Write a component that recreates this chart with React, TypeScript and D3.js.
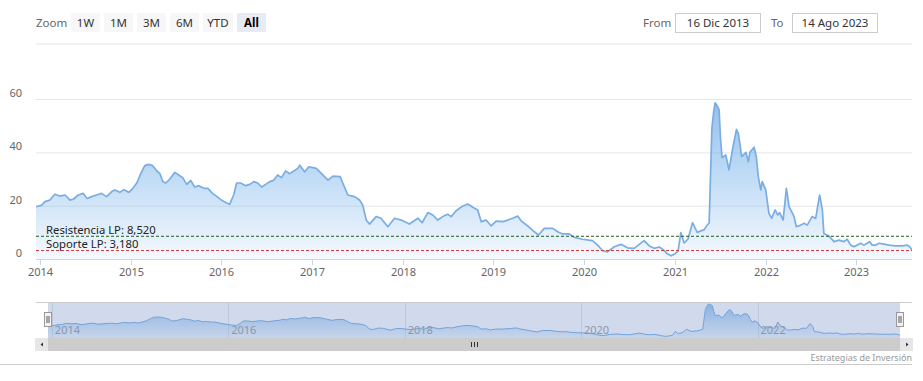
import React from 'react';
import * as d3 from 'd3';

const dates = [
  '2013-12-16','2013-12-24','2014-01-08','2014-01-21','2014-02-10','2014-03-02','2014-03-22','2014-04-12','2014-05-02','2014-05-15',
  '2014-06-04','2014-06-24','2014-07-10','2014-07-28','2014-08-17','2014-09-06','2014-09-26','2014-10-16','2014-10-30','2014-11-19',
  '2014-12-05','2014-12-25','2015-01-10','2015-01-26','2015-02-11','2015-02-27','2015-03-15','2015-03-31','2015-04-17','2015-04-29',
  '2015-05-11','2015-05-23','2015-06-08','2015-06-28','2015-07-14','2015-07-30','2015-08-15','2015-08-31','2015-09-16','2015-10-03',
  '2015-10-23','2015-11-08','2015-11-28','2015-12-14','2016-01-03','2016-01-23','2016-02-04','2016-02-20','2016-03-03','2016-03-19',
  '2016-04-09','2016-04-25','2016-05-11','2016-05-27','2016-06-12','2016-06-28','2016-07-14','2016-07-30','2016-08-15','2016-08-31',
  '2016-09-16','2016-10-03','2016-10-19','2016-11-04','2016-11-12','2016-12-02','2016-12-19','2017-01-18','2017-02-07','2017-03-06',
  '2017-03-26','2017-04-24','2017-05-05','2017-05-25','2017-06-21','2017-07-11','2017-07-24','2017-08-07','2017-08-20','2017-09-16',
  '2017-10-06','2017-10-16','2017-11-02','2017-11-29','2017-12-26','2018-01-28','2018-03-03','2018-03-20','2018-04-12','2018-05-02',
  '2018-05-22','2018-06-11','2018-07-01','2018-07-15','2018-08-04','2018-08-31','2018-09-20','2018-10-10','2018-10-30','2018-11-13',
  '2018-12-03','2018-12-23','2019-01-12','2019-02-08','2019-02-28','2019-03-20','2019-04-09','2019-04-22','2019-05-26','2019-06-15',
  '2019-07-02','2019-07-25','2019-08-28','2019-09-17','2019-10-07','2019-11-03','2019-11-23','2019-12-26','2020-02-04','2020-02-25',
  '2020-03-16','2020-04-05','2020-05-02','2020-05-29','2020-06-24','2020-07-21','2020-08-30','2020-09-20','2020-10-10','2020-10-30',
  '2020-11-15','2020-12-01','2020-12-17','2021-01-02','2021-01-14','2021-01-25','2021-02-07','2021-02-23','2021-03-13','2021-04-01',
  '2021-04-29','2021-05-11','2021-05-19','2021-05-30','2021-06-06','2021-06-12','2021-06-20','2021-06-28','2021-07-04','2021-07-10',
  '2021-07-25','2021-08-07','2021-08-23','2021-09-06','2021-09-14','2021-09-27','2021-10-14','2021-10-24','2021-10-30','2021-11-16',
  '2021-11-25','2021-12-03','2021-12-13','2021-12-19','2022-01-02','2022-01-15','2022-01-26','2022-02-09','2022-02-19','2022-02-27',
  '2022-03-13','2022-03-26','2022-04-06','2022-04-26','2022-05-05','2022-05-23','2022-06-05','2022-06-18','2022-07-08','2022-07-22',
  '2022-08-07','2022-08-18','2022-08-24','2022-09-14','2022-10-04','2022-10-24','2022-11-13','2022-11-26','2022-12-10','2022-12-23',
  '2023-01-05','2023-01-19','2023-02-01','2023-02-14','2023-02-24','2023-03-07','2023-03-20','2023-04-03','2023-04-23','2023-05-13',
  '2023-06-09','2023-07-05','2023-07-26','2023-08-05','2023-08-14',
];

const values = [
  19.6, 19.8, 20.2, 21.5, 22.1, 24.3, 23.6, 24.0, 22.1, 22.4,
  24.0, 24.6, 22.7, 23.4, 24.0, 24.6, 23.4, 25.2, 25.9, 25.0,
  26.0, 25.0, 26.5, 28.5, 32.0, 35.0, 35.5, 35.0, 33.0, 32.0,
  29.0, 28.5, 30.0, 32.5, 31.5, 30.5, 28.0, 29.5, 27.0, 27.5,
  26.5, 26.5, 24.5, 23.5, 22.0, 21.0, 20.5, 24.0, 28.5, 28.5,
  27.5, 28.0, 29.0, 28.5, 27.0, 28.0, 29.0, 29.5, 31.5, 30.5,
  33.0, 32.0, 33.0, 34.0, 35.2, 32.7, 34.6, 34.0, 32.1, 29.6,
  31.1, 30.9, 28.4, 24.0, 23.4, 22.1, 20.2, 14.6, 13.1, 15.9,
  15.3, 14.0, 12.1, 15.3, 14.6, 13.1, 15.3, 13.6, 17.4, 16.5,
  14.6, 15.9, 16.8, 15.9, 18.1, 19.9, 20.6, 19.4, 18.4, 14.0,
  14.6, 12.4, 14.2, 14.0, 14.6, 15.3, 16.1, 14.4, 11.9, 10.2,
  9.0, 11.5, 11.5, 10.2, 9.4, 9.4, 8.1, 7.4, 6.9, 5.2,
  3.1, 2.7, 4.6, 5.5, 4.2, 4.0, 6.9, 4.9, 4.0, 4.5,
  3.5, 2.0, 1.2, 2.0, 3.0, 9.9, 6.0, 7.5, 13.6, 10.0,
  11.0, 12.7, 13.5, 49.0, 55.0, 58.6, 57.5, 56.0, 45.0, 38.0,
  39.0, 33.4, 42.0, 48.6, 47.0, 38.4, 40.0, 36.5, 40.0, 41.9,
  38.4, 30.9, 25.9, 29.0, 25.9, 17.0, 15.3, 18.4, 16.5, 17.4,
  14.6, 26.5, 19.6, 15.9, 12.1, 12.7, 13.4, 12.7, 15.9, 15.2,
  24.0, 18.4, 9.6, 8.6, 6.5, 7.1, 6.5, 7.4, 5.2, 4.6,
  5.2, 5.9, 5.2, 5.9, 6.5, 5.2, 5.2, 5.9, 5.6, 5.2,
  4.9, 4.9, 5.2, 4.6, 3.4,
];

const yTicks = [0, 20, 40, 60];
const xTickYears = [2014, 2015, 2016, 2017, 2018, 2019, 2020, 2021, 2022, 2023];
const navTickYears = [2014, 2016, 2018, 2020, 2022];
const zoomButtons = ['1W', '1M', '3M', '6M', 'YTD', 'All'];
const selectedButton = 'All';
const fromText = '16 Dic 2013';
const toText = '14 Ago 2023';
const resistanceValue = 8.52;
const supportValue = 3.18;
const resistanceLabel = 'Resistencia LP: 8,520';
const supportLabel = 'Soporte LP: 3,180';
const creditText = 'Estrategias de Inversión';

const W = 923;
const H = 381;
const FONT = '"Noto Sans", "Open Sans", sans-serif';

export default function App() {
  const parse = d3.timeParse('%Y-%m-%d');
  const data = dates.map((d, i) => ({ date: parse(d) as Date, value: values[i] }));

  const plotL = 36, plotR = 912, plotT = 99, plotB = 259;
  const x = d3.scaleTime().domain([data[0].date, data[data.length - 1].date]).range([plotL, plotR]);
  const y = d3.scaleLinear().domain([0, 60]).range([plotB, plotT]);

  const navL = 48, navR = 900, navT = 302, navB = 338;
  const nx = d3.scaleTime().domain(x.domain()).range([navL, navR]);
  const ny = d3.scaleLinear().domain([0, d3.max(values) as number]).range([337, 304]);

  const line = d3.line<any>().x(d => x(d.date)).y(d => y(d.value));
  const area = d3.area<any>().x(d => x(d.date)).y0(plotB).y1(d => y(d.value));
  const nline = d3.line<any>().x(d => nx(d.date)).y(d => ny(d.value));
  const narea = d3.area<any>().x(d => nx(d.date)).y0(navB).y1(d => ny(d.value));

  const btnW = [29, 29, 29, 29, 30, 29];
  let bx = 71;
  const btns = zoomButtons.map((b, i) => {
    const o = { label: b, x: bx, w: btnW[i] };
    bx += btnW[i] + 4;
    return o;
  });

  const yRes = y(resistanceValue);
  const ySup = y(supportValue);
  const gripX = (navL + navR) / 2;

  return (
    <svg width={W} height={H} style={{ position: 'absolute', left: 0, top: 0, fontFamily: FONT }}>
      <defs>
        <linearGradient id="mainGrad" gradientUnits="userSpaceOnUse" x1="0" y1={plotT} x2="0" y2={plotB}>
          <stop offset="0" stopColor="#7cb5ec" stopOpacity="0.85" />
          <stop offset="1" stopColor="#7cb5ec" stopOpacity="0.08" />
        </linearGradient>
        <linearGradient id="navGrad" gradientUnits="userSpaceOnUse" x1="0" y1={304} x2="0" y2={navB}>
          <stop offset="0" stopColor="#7cb5ec" stopOpacity="0.75" />
          <stop offset="1" stopColor="#7cb5ec" stopOpacity="0.1" />
        </linearGradient>
        <clipPath id="plotClip">
          <rect x={plotL} y={plotT - 10} width={plotR - plotL} height={plotB - plotT + 10} />
        </clipPath>
      </defs>
      <rect x={0} y={0} width={W} height={H} fill="#ffffff" />

      {/* toolbar */}
      <text x={36} y={27} fontSize={11.5} fill="#666">Zoom</text>
      {btns.map(b => (
        <g key={b.label}>
          <rect x={b.x} y={13} width={b.w} height={19} rx={1}
            fill={b.label === selectedButton ? '#e6ebf5' : '#f7f7f7'} />
          <text x={b.x + b.w / 2} y={27} fontSize={11.5} textAnchor="middle"
            fill={b.label === selectedButton ? '#000' : '#333'}
            fontWeight={b.label === selectedButton ? 'bold' : 'normal'}>{b.label}</text>
        </g>
      ))}
      <text x={643} y={27} fontSize={11.5} fill="#666">From</text>
      <rect x={675.5} y={13.5} width={85} height={19} fill="#fff" stroke="#cccccc" />
      <text x={718} y={27} fontSize={11.5} fill="#333" textAnchor="middle">{fromText}</text>
      <text x={771} y={27} fontSize={11.5} fill="#666">To</text>
      <rect x={792.5} y={13.5} width={85} height={19} fill="#fff" stroke="#cccccc" />
      <text x={835} y={27} fontSize={11.5} fill="#333" textAnchor="middle">{toText}</text>
      <rect x={36} y={43} width={plotR - 36} height={2} fill="#f2f2f2" />

      {/* grid */}
      {yTicks.filter(t => t > 0).map(t => (
        <line key={t} x1={plotL} x2={plotR} y1={y(t) + 0.5} y2={y(t) + 0.5} stroke="#e6e6e6" />
      ))}
      {yTicks.map(t => (
        <text key={'yl' + t} x={22} y={y(t) - 2} fontSize={11} fill="#666" textAnchor="end">{t}</text>
      ))}

      {/* series */}
      <g clipPath="url(#plotClip)">
        <path d={area(data) as string} fill="url(#mainGrad)" />
        <path d={line(data) as string} fill="none" stroke="#7aaee3" strokeWidth={1.7} strokeLinejoin="round" />
      </g>

      {/* reference lines */}
      <line x1={plotL} x2={plotR} y1={yRes} y2={yRes} stroke="#1d5e1d" strokeWidth={1} strokeDasharray="3,2" />
      <line x1={plotL} x2={plotR} y1={ySup} y2={ySup} stroke="#d0393f" strokeWidth={1} strokeDasharray="3,2" />
      <text x={46} y={yRes - 2.5} fontSize={11.3} fill="#222">{resistanceLabel}</text>
      <text x={46} y={ySup - 2.5} fontSize={11.3} fill="#222">{supportLabel}</text>

      {/* x axis */}
      <line x1={plotL} x2={plotR} y1={plotB + 0.5} y2={plotB + 0.5} stroke="#ccd6eb" />
      {xTickYears.map(yr => {
        const px = Math.round(x(new Date(yr, 0, 1))) + 0.5;
        return (
          <g key={yr}>
            <line x1={px} x2={px} y1={plotB} y2={plotB + 6} stroke="#ccd6eb" />
            <text x={px} y={276} fontSize={11} fill="#666" textAnchor="middle">{yr}</text>
          </g>
        );
      })}

      {/* navigator */}
      <rect x={navL} y={navT} width={navR - navL} height={navB - navT} fill="#ffffff" />
      {navTickYears.map(yr => {
        const px = Math.round(nx(new Date(yr, 0, 1))) + 0.5;
        return <line key={'ng' + yr} x1={px} x2={px} y1={navT} y2={navB} stroke="#e6e6e6" />;
      })}
      <path d={narea(data) as string} fill="url(#navGrad)" />
      <path d={nline(data) as string} fill="none" stroke="#7aaee3" strokeWidth={1} />
      <rect x={navL} y={navT} width={navR - navL} height={navB - navT} fill="rgba(102,133,194,0.3)" />
      {navTickYears.map(yr => {
        const px = nx(new Date(yr, 0, 1));
        return <text key={'nl' + yr} x={px + 3} y={334} fontSize={11} fill="#8a97aa">{yr}</text>;
      })}
      <line x1={plotL} x2={plotR} y1={navT + 0.5} y2={navT + 0.5} stroke="#cccccc" />

      {/* handles */}
      {[navL, navR].map((hx, i) => (
        <g key={'h' + i}>
          <rect x={hx - 3.5} y={312.5} width={7} height={14} fill="#f2f2f2" stroke="#999999" />
          <line x1={hx - 1} x2={hx - 1} y1={316} y2={323} stroke="#333" strokeWidth={0.8} />
          <line x1={hx + 1} x2={hx + 1} y1={316} y2={323} stroke="#333" strokeWidth={0.8} />
        </g>
      ))}

      {/* scrollbar */}
      <rect x={plotL} y={navB} width={plotR - plotL} height={13} fill="#f2f2f2" />
      <rect x={navL} y={navB} width={navR - navL} height={13} fill="#cccccc" />
      <rect x={plotL - 1} y={navB} width={13} height={13} fill="#e6e6e6" />
      <rect x={navR} y={navB} width={13} height={13} fill="#e6e6e6" />
      <path d={`M${plotL + 7},${navB + 4.5} L${plotL + 7},${navB + 8.5} L${plotL + 4.5},${navB + 6.5} Z`} fill="#333" />
      <path d={`M${navR + 6},${navB + 4.5} L${navR + 6},${navB + 8.5} L${navR + 8.5},${navB + 6.5} Z`} fill="#333" />
      {[-3, 0, 3].map(o => (
        <line key={'g' + o} x1={gripX + o + 0.5} x2={gripX + o + 0.5} y1={navB + 4} y2={navB + 9} stroke="#333" />
      ))}

      {/* bottom */}
      <text x={912} y={361} fontSize={9} fill="#999" textAnchor="end">{creditText}</text>
      <line x1={0} x2={912} y1={364.5} y2={364.5} stroke="#cccccc" />
    </svg>
  );
}
